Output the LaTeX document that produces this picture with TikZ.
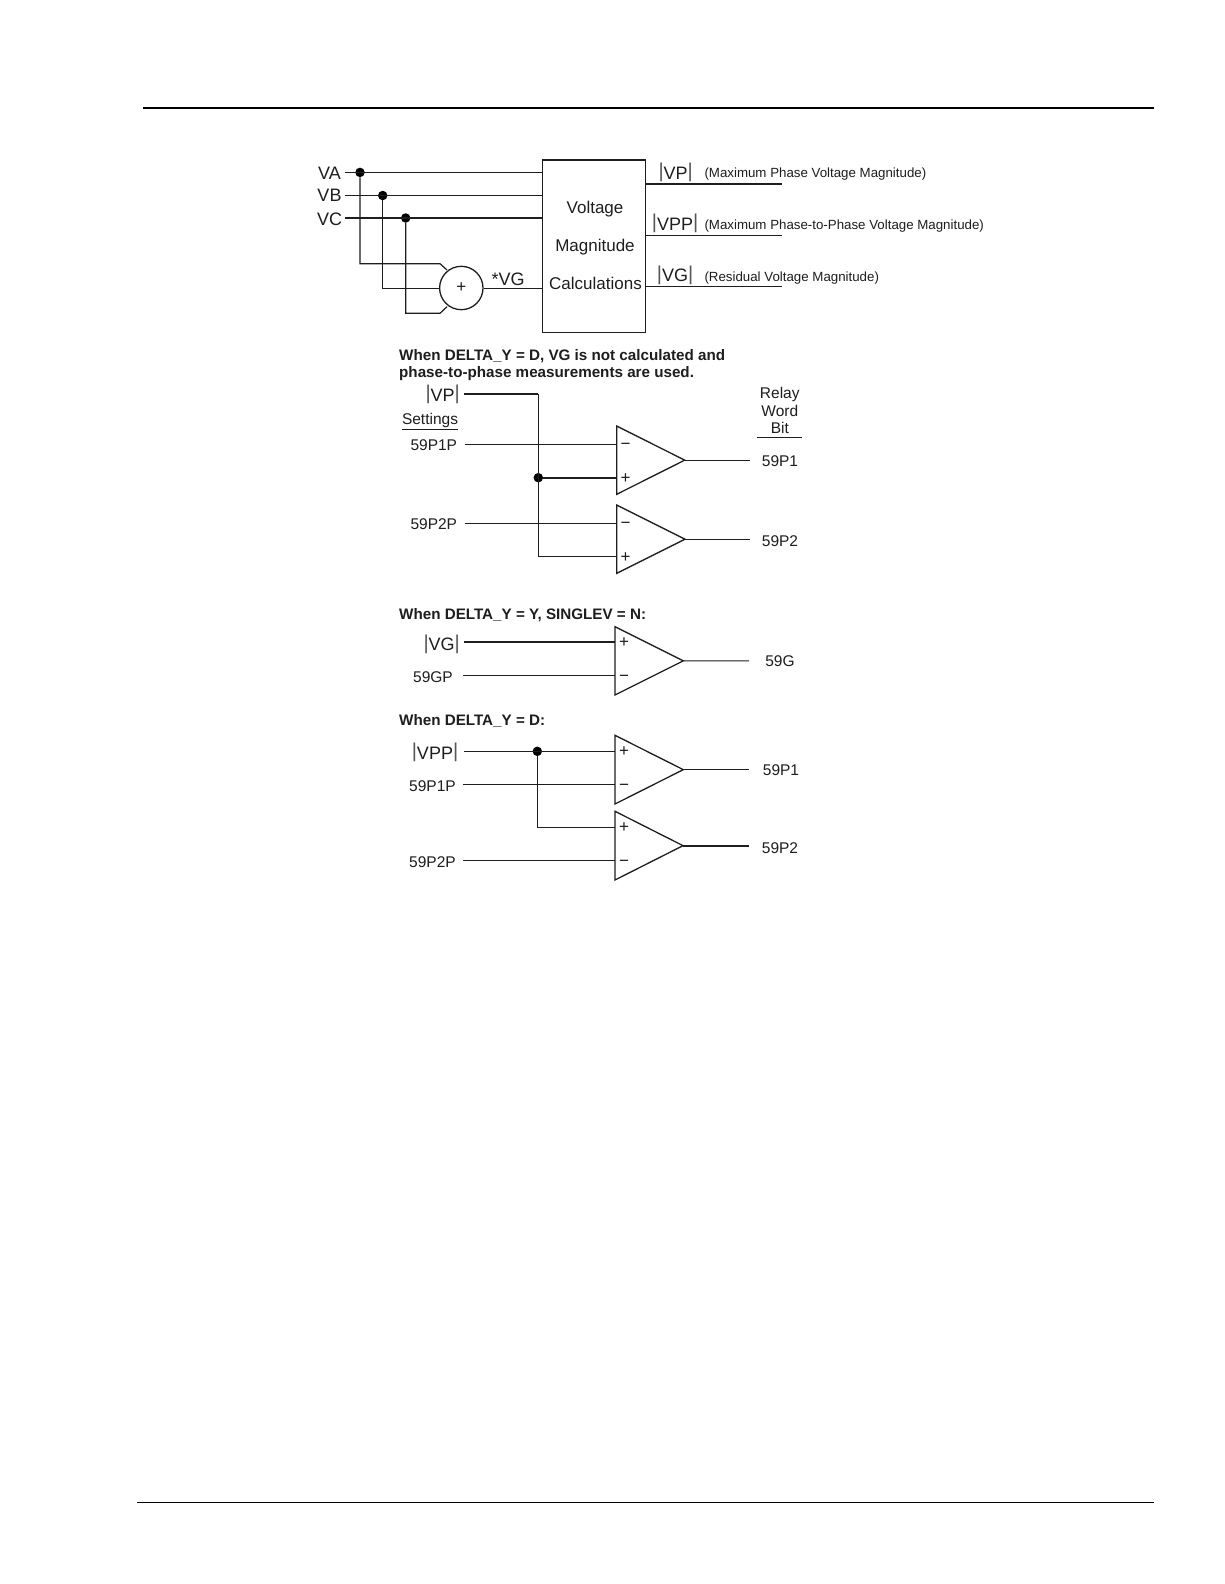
\documentclass[tikz,border=0pt]{standalone}
\usepackage{fontspec}
\setmainfont{Liberation Sans}
\definecolor{ink}{HTML}{1E1E1E}
\newcommand{\fs}[1]{\fontsize{#1}{#1}\selectfont}
\newcommand{\vbar}{{\fs{20}\textcolor{ink!75}{\raisebox{1.5pt}{|}}}}
\tikzset{
  x=1pt,y=-1pt,
  wire/.style={draw=ink,line width=1.2pt},
  hwire/.style={draw=ink,line width=1.9pt},
  shape line/.style={draw=ink,line width=1.3pt},
  jdot/.style={circle,fill=black,inner sep=0pt,minimum size=9.5pt},
  lab/.style={inner sep=0pt,text=ink,font=\fs{15.5}},
  biglab/.style={inner sep=0pt,text=ink,font=\fs{18}},
  midlab/.style={inner sep=0pt,text=ink,font=\fs{17}},
  note/.style={inner sep=0pt,text=ink,anchor=west,font=\fs{13.3}},
  head/.style={inner sep=0pt,text=ink,anchor=west,font=\fs{15.2}\bfseries},
  signlab/.style={inner sep=0pt,text=ink,anchor=base,font=\fs{17}}
}
\newcommand{\comparator}[8]{% name, x, ytop, ybot, tipx, y upper, y lower, signs
  \coordinate (#1t) at (#2,#3);
  \coordinate (#1b) at (#2,#4);
  \coordinate (#1o) at (#5,{(#3+#4)/2});
  \coordinate (#1u) at (#2,#6);
  \coordinate (#1l) at (#2,#7);
  \draw[shape line,line join=miter] (#1t) -- (#1o) -- (#1b) -- cycle;
  \foreach \sgn/\yy/\nm in {#8}{\node[signlab] (#1\nm) at ({#2+9},{\yy+5.5}) {\sgn};}
}
\begin{document}
\begin{tikzpicture}
\useasboundingbox (0,0) rectangle (1224,1584);
\fill[white] (0,0) rectangle (1224,1584);
% page rules
\coordinate (rt1) at (142.5,107.7); \coordinate (rt2) at (1154,107.7);
\coordinate (rb1) at (137,1502.3); \coordinate (rb2) at (1154,1502.3);
\draw[draw=black,line width=2.2pt] (rt1) -- (rt2);
\draw[draw=black,line width=1.4pt] (rb1) -- (rb2);

% top block
\node[shape line,rectangle,minimum width=103pt,minimum height=171.6pt,inner sep=0pt] (calc) at (593.8,246.5) {};
\draw[draw=ink,line width=1.9pt] (calc.north west) -- (calc.north east);
\node[midlab] (tv) at (595,209) {Voltage};
\node[midlab] (tm) at (595,247.5) {Magnitude};
\node[midlab] (tc) at (595.5,283.5) {Calculations};
\node[biglab] (va) at (329.5,173) {VA};
\node[biglab] (vb) at (329.5,195.5) {VB};
\node[biglab] (vc) at (329.5,219.3) {VC};
\coordinate (vas) at (345,172.4); \coordinate (vbs) at (345,195.5); \coordinate (vcs) at (345,218);
\node[jdot] (da) at (360,172.4) {};
\node[jdot] (db) at (382.7,195.5) {};
\node[jdot] (dc) at (405.7,218) {};
\coordinate (cae) at (calc.west |- vas);
\coordinate (cbe) at (calc.west |- vbs);
\coordinate (cce) at (calc.west |- vcs);
\draw[wire] (vas) -- (cae);
\draw[wire] (vbs) -- (cbe);
\draw[hwire] (vcs) -- (cce);
\node[shape line,circle,minimum size=43.4pt,inner sep=0pt,font=\fs{17},text=ink] (sum) at (461.3,288) {+};
\coordinate (ka1) at (360,263.7); \coordinate (ka2) at (440,263.7); \coordinate (ka3) at (447,270);
\coordinate (kc1) at (405.7,313.3); \coordinate (kc2) at (440,313.3); \coordinate (kc3) at (447,306.7);
\coordinate (kb1) at (382.7,288.4);
\coordinate (kb2) at (sum.west |- kb1);
\draw[wire] (da) -- (ka1) -- (ka2) -- (ka3);
\draw[wire] (db) -- (kb1) -- (kb2);
\draw[wire] (dc) -- (kc1) -- (kc2) -- (kc3);
\coordinate (vgin) at (calc.west |- kb1);
\coordinate (vgout) at (sum.east |- kb1);
\draw[wire] (vgout) -- (vgin);
\node[biglab] (svg) at (508,279.5) {*VG};

% outputs
\coordinate (o1s) at (645.3,184); \coordinate (o1e) at (782,184);
\coordinate (o2s) at (645.3,235.5); \coordinate (o2e) at (782,235.5);
\coordinate (o3s) at (645.3,286.8); \coordinate (o3e) at (782,286.8);
\draw[hwire] (o1s) -- (o1e);
\draw[wire] (o2s) -- (o2e);
\draw[wire] (o3s) -- (o3e);
\node[biglab] (ovp) at (675.7,172.5) {\vbar VP\vbar};
\node[biglab] (ovpp) at (675,223.5) {\vbar VPP\vbar};
\node[biglab] (ovg) at (675,275) {\vbar VG\vbar};
\node[note] (n1) at (704.3,174.5) {(Maximum Phase Voltage Magnitude)};
\node[note] (n2) at (704.3,226.2) {(Maximum Phase-to-Phase Voltage Magnitude)};
\node[note] (n3) at (704.3,278) {(Residual Voltage Magnitude)};

% headings
\node[head] (h1) at (399,356) {When DELTA\_Y = D, VG is not calculated and};
\node[head] (h1b) at (399,373.8) {phase-to-phase measurements are used.};
\node[head] (h2) at (399,615) {When DELTA\_Y = Y, SINGLEV = N:};
\node[head] (h3) at (399,721) {When DELTA\_Y = D:};

% first comparators
\comparator{A}{616.7}{426}{494.3}{684.7}{444.5}{477.7}{−/444/m,+/477.7/p}
\comparator{B}{616.7}{505}{573.3}{685}{523.5}{556.7}{−/523/m,+/556.7/p}
\node[biglab] (lvp) at (442.7,394.5) {\vbar VP\vbar};
\node[lab] (set) at (430,420.5) {Settings};
\coordinate (su1) at (402,429.5); \coordinate (su2) at (458,429.5);
\draw[draw=ink,line width=1pt] (su1) -- (su2);
\node[lab] (l1p) at (433.8,445.5) {59P1P};
\node[lab] (l2p) at (433.8,524.5) {59P2P};
\coordinate (w1s) at (464,394); \coordinate (w1c) at (538.3,394); \coordinate (w1d) at (538.3,556.7);
\coordinate (w2s) at (465.3,444.5); \coordinate (w3s) at (465.3,523.5);
\node[jdot] (dvp) at (538.3,477.7) {};
\draw[hwire] (w1s) -- (w1c);
\draw[wire] (w1c) -- (w1d) -- (Bl);
\draw[hwire] (dvp) -- (Al);
\draw[wire] (w2s) -- (Au);
\draw[wire] (w3s) -- (Bu);
\coordinate (Ae) at (750,460.15); \coordinate (Be) at (750,539.15);
\draw[wire] (Ao) -- (Ae);
\draw[wire] (Bo) -- (Be);
\node[lab] (rw1) at (779.8,394) {Relay};
\node[lab] (rw2) at (779.8,410.7) {Word};
\node[lab] (rw3) at (779.8,427.7) {Bit};
\coordinate (ru1) at (756.7,437.5); \coordinate (ru2) at (801.7,437.5);
\draw[draw=ink,line width=1pt] (ru1) -- (ru2);
\node[lab] (r1) at (780,461.5) {59P1};
\node[lab] (r2) at (780,541) {59P2};

% 59G
\comparator{C}{615}{626.7}{695}{683.3}{642}{675.7}{+/642/p,−/675.7/m}
\node[biglab] (lvg) at (441.7,644) {\vbar VG\vbar};
\node[lab] (lgp) at (433,677.5) {59GP};
\coordinate (g1s) at (464,642); \coordinate (g2s) at (463,675.7); \coordinate (Ce) at (749,660.85);
\draw[hwire] (g1s) -- (Cu);
\draw[wire] (g2s) -- (Cl);
\draw[wire] (Co) -- (Ce);
\node[lab] (rg) at (780,661.5) {59G};

% delta
\comparator{D}{615}{735.3}{804}{683.3}{751.3}{784.7}{+/751.3/p,−/784.7/m}
\comparator{E}{615}{811.3}{880}{683}{827.3}{860.7}{+/827.3/p,−/860.7/m}
\node[biglab] (lvpp) at (435,752.5) {\vbar VPP\vbar};
\node[lab] (l3) at (432.5,786.5) {59P1P};
\node[lab] (l4) at (432.5,862.5) {59P2P};
\coordinate (d1s) at (464,751.3); \coordinate (d2s) at (463,784.7); \coordinate (d4s) at (463,860.7);
\node[jdot] (dvpp) at (537.3,751.3) {};
\coordinate (dk) at (537.3,827.3);
\draw[wire] (d1s) -- (Du);
\draw[wire] (d2s) -- (Dl);
\draw[wire] (dvpp) -- (dk) -- (Eu);
\draw[wire] (d4s) -- (El);
\coordinate (De) at (749,769.65); \coordinate (Ee) at (749,845.65);
\draw[wire] (Do) -- (De);
\draw[hwire] (Eo) -- (Ee);
\node[lab] (r3) at (781,770.5) {59P1};
\node[lab] (r4) at (780,848) {59P2};
\end{tikzpicture}
\end{document}
